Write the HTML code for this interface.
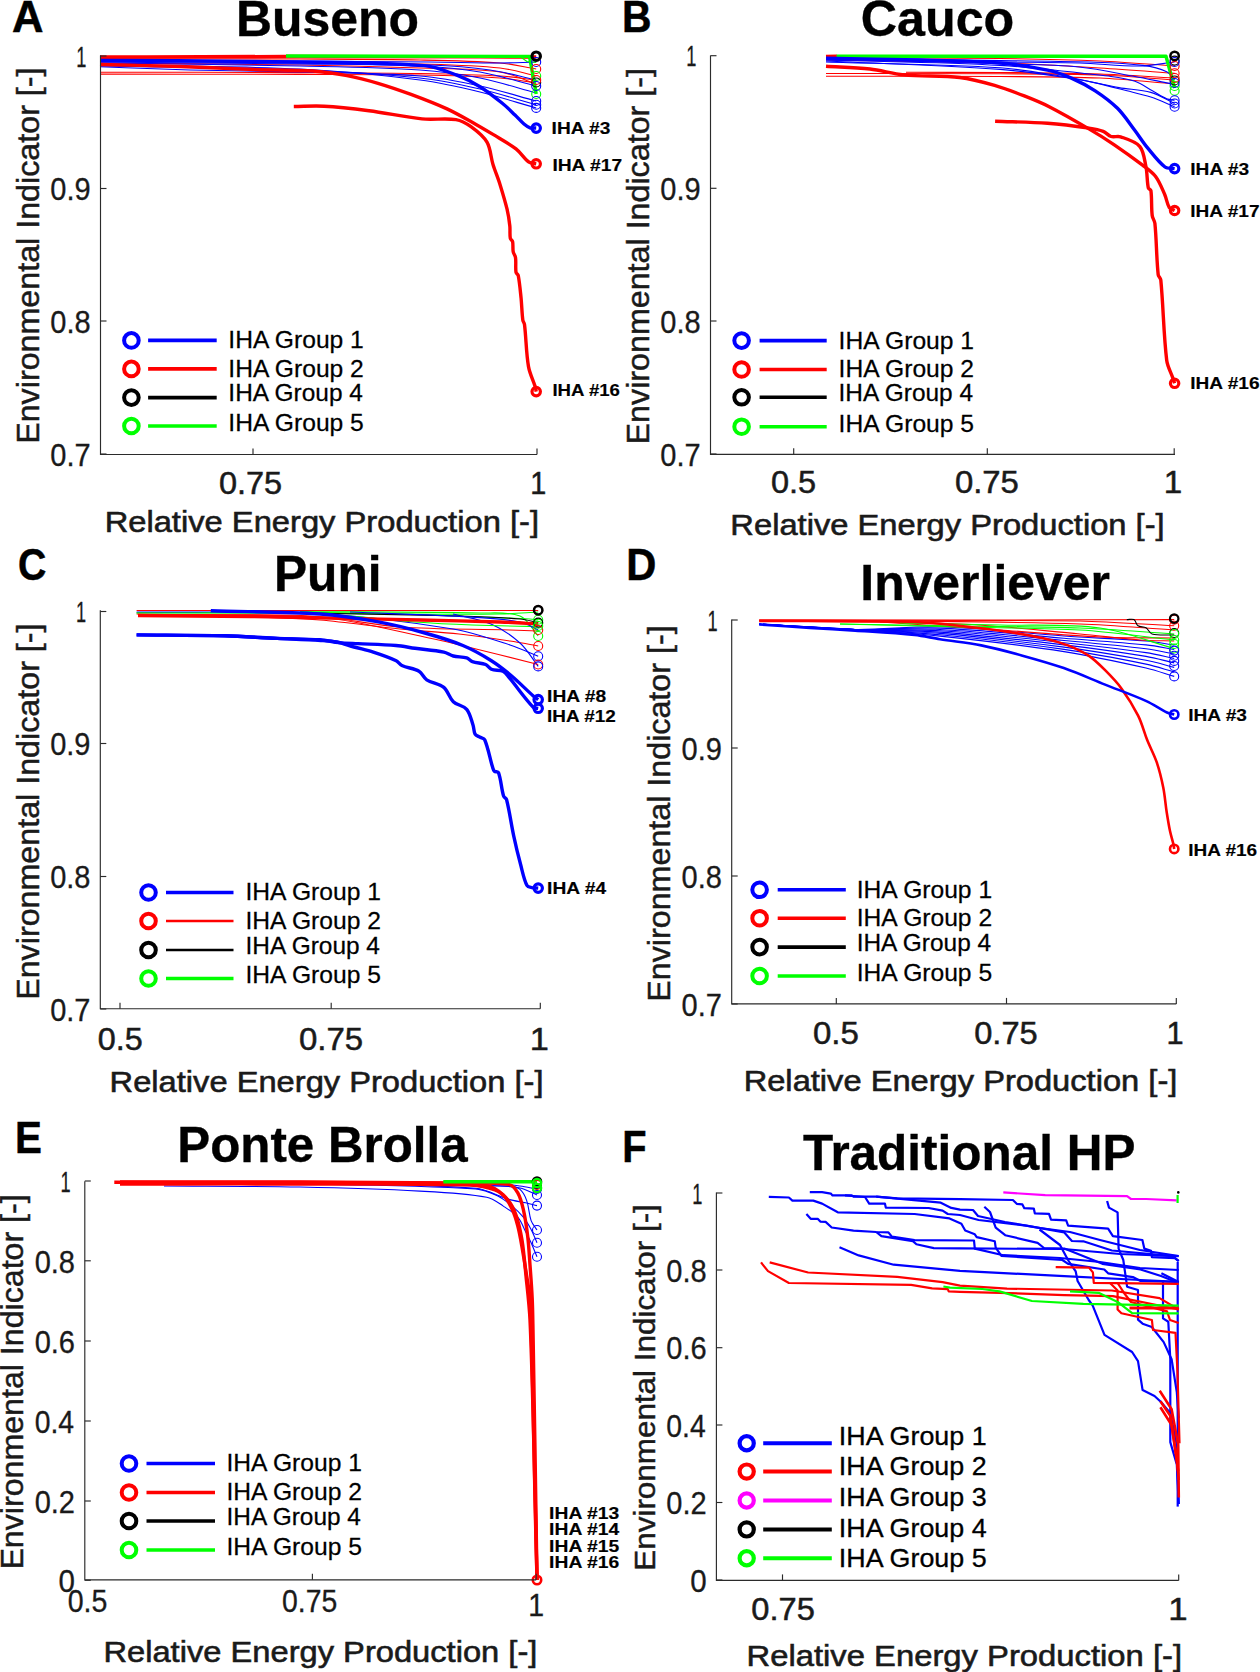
<!DOCTYPE html>
<html><head><meta charset="utf-8"><style>
html,body{margin:0;padding:0;background:#fff;}
svg{display:block;}
text{font-family:"Liberation Sans",sans-serif;}
</style></head><body>
<svg width="1260" height="1672" viewBox="0 0 1260 1672">
<rect width="1260" height="1672" fill="#fff"/>
<text transform="translate(12.00,31.70) scale(1.0000,1)" font-size="43.6" font-weight="bold" fill="#000" stroke="#000" stroke-width="0.5">A</text>
<text transform="translate(235.90,36.10) scale(0.9989,1)" font-size="50" font-weight="bold" fill="#000" stroke="#000" stroke-width="0.35">Buseno</text>
<path d="M100.0,72.2 C166.7,72.3 233.3,72.3 300.0,72.6 C340.0,72.8 380.0,72.8 420.0,73.5 C446.7,74.0 473.4,74.5 500.0,76.0 C512.1,76.7 524.1,78.7 536.2,80.0" fill="none" stroke="#ff0000" stroke-width="1.1" stroke-linejoin="round" stroke-linecap="butt"/>
<path d="M100.0,74.1 C166.7,74.2 233.3,74.2 300.0,74.4 C340.0,74.5 380.0,74.3 420.0,75.0 C446.7,75.5 473.4,76.2 500.0,78.0 C512.1,78.8 524.1,81.3 536.2,83.0" fill="none" stroke="#ff0000" stroke-width="1.1" stroke-linejoin="round" stroke-linecap="butt"/>
<path d="M100.0,58.5 C166.7,58.7 233.3,58.7 300.0,59.0 C340.0,59.2 380.0,59.2 420.0,60.0 C446.7,60.5 473.4,60.9 500.0,63.0 C512.2,63.9 524.1,67.0 536.2,69.0" fill="none" stroke="#ff0000" stroke-width="1.1" stroke-linejoin="round" stroke-linecap="butt"/>
<path d="M100.0,61.0 C166.7,61.3 233.3,61.4 300.0,62.0 C340.0,62.4 380.0,62.8 420.0,64.0 C446.7,64.8 473.5,65.3 500.0,68.0 C512.3,69.3 524.1,73.3 536.2,76.0" fill="none" stroke="#ff0000" stroke-width="1.1" stroke-linejoin="round" stroke-linecap="butt"/>
<path d="M100.0,63.0 C166.7,63.7 233.3,64.0 300.0,65.0 C340.0,65.6 380.0,66.6 420.0,68.0 C446.7,68.9 473.8,68.4 500.0,72.0 C512.5,73.7 524.1,80.0 536.2,84.0" fill="none" stroke="#ff0000" stroke-width="1.1" stroke-linejoin="round" stroke-linecap="butt"/>
<path d="M100.0,60.0 C166.7,60.3 233.3,60.6 300.0,61.0 C343.3,61.3 386.7,61.6 430.0,62.0 C453.3,62.2 476.7,63.0 500.0,63.0 C512.1,63.0 524.1,62.3 536.2,62.0" fill="none" stroke="#0000ff" stroke-width="1.1" stroke-linejoin="round" stroke-linecap="butt"/>
<path d="M100.0,62.0 C166.7,62.7 233.3,63.2 300.0,64.0 C340.0,64.5 380.1,64.2 420.0,66.0 C440.1,66.9 460.2,68.6 480.0,72.0 C499.0,75.3 517.5,81.3 536.2,86.0" fill="none" stroke="#0000ff" stroke-width="1.1" stroke-linejoin="round" stroke-linecap="butt"/>
<path d="M100.0,63.0 C166.7,64.0 233.3,64.5 300.0,66.0 C340.0,66.9 380.1,67.3 420.0,70.0 C440.1,71.3 460.2,74.1 480.0,78.0 C499.0,81.8 517.5,88.0 536.2,93.0" fill="none" stroke="#0000ff" stroke-width="1.1" stroke-linejoin="round" stroke-linecap="butt"/>
<path d="M100.0,66.8 C130.0,67.9 160.0,69.2 190.0,70.0 C226.7,71.0 263.3,71.0 300.0,72.0 C340.0,73.0 380.2,72.9 420.0,76.0 C440.2,77.6 460.2,81.7 480.0,86.0 C498.9,90.1 517.5,96.0 536.2,101.0" fill="none" stroke="#0000ff" stroke-width="1.1" stroke-linejoin="round" stroke-linecap="butt"/>
<path d="M100.0,66.0 C166.7,67.3 233.4,67.5 300.0,70.0 C340.1,71.5 380.2,73.8 420.0,78.0 C440.2,80.1 460.2,84.5 480.0,89.0 C498.9,93.4 517.5,99.5 536.2,104.7" fill="none" stroke="#0000ff" stroke-width="1.1" stroke-linejoin="round" stroke-linecap="butt"/>
<path d="M100.0,65.0 C166.7,66.3 233.4,65.9 300.0,69.0 C340.1,70.9 380.2,74.9 420.0,80.0 C440.2,82.6 460.2,87.2 480.0,92.0 C498.9,96.6 517.5,102.7 536.2,108.0" fill="none" stroke="#0000ff" stroke-width="1.1" stroke-linejoin="round" stroke-linecap="butt"/>
<path d="M100.0,61.0 C166.7,61.7 233.3,62.2 300.0,63.0 C343.3,63.5 386.7,63.4 430.0,65.0 C450.0,65.7 470.2,67.2 490.0,70.0 C505.6,72.2 520.8,76.7 536.2,80.0" fill="none" stroke="#0000ff" stroke-width="1.1" stroke-linejoin="round" stroke-linecap="butt"/>
<path d="M100.0,57.0 C162.0,56.8 224.0,56.5 286.0,56.5 C369.4,56.5 452.8,56.8 536.2,57.0" fill="none" stroke="#ff0000" stroke-width="3.4" stroke-linejoin="round" stroke-linecap="butt"/>
<path d="M286.0,56.0 L529.5,56.4 L536.2,94.0" fill="none" stroke="#00ff00" stroke-width="3.4" stroke-linejoin="round" stroke-linecap="butt"/>
<path d="M520.6,57.0 L527.0,61.5 L536.2,62.5" fill="none" stroke="#00ff00" stroke-width="1.1" stroke-linejoin="round" stroke-linecap="butt"/>
<path d="M100.0,60.5 C151.7,60.8 203.3,60.7 255.0,61.5 C311.3,62.4 368.1,61.7 424.0,65.6 C435.7,66.4 447.0,71.5 458.0,75.6 C465.7,78.5 473.1,82.4 480.0,86.7 C487.7,91.5 494.9,97.3 502.0,103.0 C506.6,106.7 510.7,110.9 515.0,115.0 C518.1,117.9 520.8,121.3 524.0,124.0 C525.8,125.5 527.8,127.1 530.0,127.8 C531.9,128.4 534.1,127.9 536.2,128.0" fill="none" stroke="#0000ff" stroke-width="3.4" stroke-linejoin="round" stroke-linecap="butt"/>
<path d="M100.0,64.5 C126.7,65.2 153.3,65.6 180.0,66.5 C205.0,67.3 230.0,68.7 255.0,69.5 C274.3,70.2 293.7,69.7 313.0,71.0 C324.4,71.8 335.8,73.5 347.0,75.6 C357.4,77.6 367.8,80.3 378.0,83.3 C389.1,86.6 400.1,90.4 411.0,94.4 C423.1,98.9 435.3,103.5 447.0,108.9 C456.9,113.5 466.4,119.1 476.0,124.4 C481.7,127.6 487.4,131.0 493.0,134.4 C500.7,139.1 508.9,143.4 516.0,148.9 C520.9,152.7 524.2,158.6 529.0,162.2 C530.9,163.6 533.8,163.3 536.2,163.8" fill="none" stroke="#ff0000" stroke-width="3.4" stroke-linejoin="round" stroke-linecap="butt"/>
<path d="M293.8,106.5 C303.9,106.4 314.0,105.6 324.0,106.2 C339.0,107.0 354.1,108.8 369.0,110.7 C386.7,113.0 404.3,117.1 422.0,118.9 C433.3,120.1 445.0,117.9 456.0,119.6 C461.4,120.5 466.6,123.5 471.0,126.7 C476.9,131.0 483.4,136.0 487.0,142.2 C490.7,148.6 490.7,157.1 493.0,164.4 C495.1,171.1 497.9,177.7 500.0,184.4 C502.5,192.5 505.0,200.6 507.0,208.9 C508.3,214.4 509.2,220.1 509.8,225.7 C510.3,229.8 509.6,234.2 510.3,238.2 C510.5,239.5 512.3,240.3 512.6,241.6 C513.3,244.8 512.6,248.5 513.2,251.8 C513.6,253.8 515.2,255.5 515.5,257.5 C516.2,262.3 515.3,267.6 516.0,272.3 C516.2,273.6 518.0,274.4 518.3,275.7 C519.7,283.1 520.3,290.8 521.1,298.4 C521.8,305.6 521.9,312.9 522.8,320.0 C523.0,321.6 524.3,322.9 524.5,324.5 C526.2,338.4 526.1,352.8 528.5,366.6 C529.7,373.6 533.2,380.2 535.3,387.0 C535.8,388.5 535.9,390.1 536.2,391.6" fill="none" stroke="#ff0000" stroke-width="3.4" stroke-linejoin="round" stroke-linecap="butt"/>
<circle cx="536.2" cy="62.0" r="4.5" fill="none" stroke="#0000ff" stroke-width="1.1"/>
<circle cx="536.2" cy="69.0" r="4.5" fill="none" stroke="#ff0000" stroke-width="1.1"/>
<circle cx="536.2" cy="76.0" r="4.5" fill="none" stroke="#00ff00" stroke-width="1.1"/>
<circle cx="536.2" cy="82.5" r="4.5" fill="none" stroke="#000000" stroke-width="1.1"/>
<circle cx="536.2" cy="94.0" r="4.5" fill="none" stroke="#00ff00" stroke-width="1.1"/>
<circle cx="536.2" cy="101.0" r="4.5" fill="none" stroke="#0000ff" stroke-width="1.1"/>
<circle cx="536.2" cy="104.7" r="4.5" fill="none" stroke="#0000ff" stroke-width="1.1"/>
<circle cx="536.2" cy="107.9" r="4.5" fill="none" stroke="#0000ff" stroke-width="1.1"/>
<circle cx="536.2" cy="86.0" r="4.5" fill="none" stroke="#0000ff" stroke-width="1.1"/>
<circle cx="536.2" cy="80.0" r="4.5" fill="none" stroke="#ff0000" stroke-width="1.1"/>
<circle cx="536.2" cy="56.2" r="4.2" fill="none" stroke="#000000" stroke-width="3.2"/>
<circle cx="536.2" cy="128.1" r="4.2" fill="none" stroke="#0000ff" stroke-width="3.2"/>
<circle cx="536.2" cy="163.8" r="4.2" fill="none" stroke="#ff0000" stroke-width="3.2"/>
<circle cx="536.2" cy="391.6" r="4.2" fill="none" stroke="#ff0000" stroke-width="3.2"/>
<text transform="translate(551.58,134.20) scale(1.2170,1)" font-size="15.7" font-weight="bold" fill="#000" stroke="#000" stroke-width="0.15">IHA #3</text>
<text transform="translate(552.38,170.90) scale(1.2250,1)" font-size="15.7" font-weight="bold" fill="#000" stroke="#000" stroke-width="0.15">IHA #17</text>
<text transform="translate(552.41,396.20) scale(1.1857,1)" font-size="15.7" font-weight="bold" fill="#000" stroke="#000" stroke-width="0.15">IHA #16</text>
<path d="M100.5,55.5 L100.5,454.5 L537,454.5" fill="none" stroke="#2b2b2b" stroke-width="1.15"/>
<path d="M100.5,56 L106.5,56" stroke="#2b2b2b" stroke-width="1.15"/>
<path d="M100.5,188.5 L106.5,188.5" stroke="#2b2b2b" stroke-width="1.15"/>
<path d="M100.5,321 L106.5,321" stroke="#2b2b2b" stroke-width="1.15"/>
<path d="M100.5,454 L106.5,454" stroke="#2b2b2b" stroke-width="1.15"/>
<path d="M253,454.5 L253,448.5" stroke="#2b2b2b" stroke-width="1.15"/>
<path d="M537,454.5 L537,448.5" stroke="#2b2b2b" stroke-width="1.15"/>
<text transform="translate(76.29,66.60) scale(0.6071,1)" font-size="30" font-weight="normal" fill="#1a1a1a" stroke="#1a1a1a" stroke-width="0.3">1</text>
<text transform="translate(50.36,200.20) scale(0.9366,1)" font-size="31" font-weight="normal" fill="#1a1a1a" stroke="#1a1a1a" stroke-width="0.3">0.9</text>
<text transform="translate(50.36,332.70) scale(0.9366,1)" font-size="31" font-weight="normal" fill="#1a1a1a" stroke="#1a1a1a" stroke-width="0.3">0.8</text>
<text transform="translate(50.36,465.70) scale(0.9366,1)" font-size="31" font-weight="normal" fill="#1a1a1a" stroke="#1a1a1a" stroke-width="0.3">0.7</text>
<text transform="translate(218.95,494.20) scale(1.0483,1)" font-size="31" font-weight="normal" fill="#1a1a1a" stroke="#1a1a1a" stroke-width="0.5">0.75</text>
<text transform="translate(530.14,494.20) scale(0.9286,1)" font-size="31" font-weight="normal" fill="#1a1a1a" stroke="#1a1a1a" stroke-width="0.5">1</text>
<text transform="translate(104.63,531.60) scale(1.0829,1)" font-size="30.2" font-weight="normal" fill="#1a1a1a" stroke="#1a1a1a" stroke-width="0.6">Relative Energy Production [-]</text>
<text transform="translate(38.70,443.82) rotate(-90) scale(1.0577,1)" font-size="30.5" font-weight="normal" fill="#1a1a1a" stroke="#1a1a1a" stroke-width="0.45">Environmental Indicator [-]</text>
<circle cx="131.4" cy="340.4" r="7.3" fill="none" stroke="#0000ff" stroke-width="4.0"/>
<path d="M148.1,340.4 L216.7,340.4" stroke="#0000ff" stroke-width="3.6"/>
<text transform="translate(228.35,348.30) scale(1.0264,1)" font-size="24" font-weight="normal" fill="#000" stroke="#000" stroke-width="0.25">IHA Group 1</text>
<circle cx="131.4" cy="368.9" r="7.3" fill="none" stroke="#ff0000" stroke-width="4.0"/>
<path d="M148.1,368.9 L216.7,368.9" stroke="#ff0000" stroke-width="3.6"/>
<text transform="translate(228.35,376.60) scale(1.0264,1)" font-size="24" font-weight="normal" fill="#000" stroke="#000" stroke-width="0.25">IHA Group 2</text>
<circle cx="131.4" cy="397.6" r="7.3" fill="none" stroke="#000000" stroke-width="4.0"/>
<path d="M148.1,397.6 L216.7,397.6" stroke="#000000" stroke-width="3.6"/>
<text transform="translate(228.36,401.20) scale(1.0185,1)" font-size="24" font-weight="normal" fill="#000" stroke="#000" stroke-width="0.25">IHA Group 4</text>
<circle cx="131.4" cy="426.0" r="7.3" fill="none" stroke="#00ff00" stroke-width="4.0"/>
<path d="M148.1,426 L216.7,426" stroke="#00ff00" stroke-width="3.6"/>
<text transform="translate(228.35,430.80) scale(1.0264,1)" font-size="24" font-weight="normal" fill="#000" stroke="#000" stroke-width="0.25">IHA Group 5</text>
<text transform="translate(622.09,31.90) scale(0.9370,1)" font-size="43.6" font-weight="bold" fill="#000" stroke="#000" stroke-width="0.5">B</text>
<text transform="translate(860.79,36.10) scale(1.0047,1)" font-size="50" font-weight="bold" fill="#000" stroke="#000" stroke-width="0.35">Cauco</text>
<path d="M826.0,73.5 C884.0,73.6 942.0,73.5 1000.0,73.8 C1033.3,74.0 1066.7,73.8 1100.0,75.0 C1124.9,75.9 1149.7,78.3 1174.6,80.0" fill="none" stroke="#ff0000" stroke-width="1.1" stroke-linejoin="round" stroke-linecap="butt"/>
<path d="M826.0,76.3 C884.0,76.4 942.0,76.1 1000.0,76.5 C1033.3,76.7 1066.7,76.6 1100.0,78.0 C1124.9,79.1 1149.7,82.0 1174.6,84.0" fill="none" stroke="#ff0000" stroke-width="1.1" stroke-linejoin="round" stroke-linecap="butt"/>
<path d="M826.0,57.5 C884.0,57.8 942.0,57.8 1000.0,58.5 C1033.3,58.9 1066.7,59.6 1100.0,61.0 C1124.9,62.1 1149.7,64.3 1174.6,66.0" fill="none" stroke="#ff0000" stroke-width="1.1" stroke-linejoin="round" stroke-linecap="butt"/>
<path d="M826.0,60.0 C884.0,61.0 942.0,61.3 1000.0,63.0 C1033.4,64.0 1066.7,66.0 1100.0,68.0 C1124.9,69.5 1149.7,71.5 1174.6,73.3" fill="none" stroke="#ff0000" stroke-width="1.1" stroke-linejoin="round" stroke-linecap="butt"/>
<path d="M906.0,72.3 C937.3,72.4 968.7,72.2 1000.0,72.5 C1033.3,72.8 1066.7,73.0 1100.0,74.0 C1124.9,74.8 1149.7,76.7 1174.6,78.0" fill="none" stroke="#ff0000" stroke-width="1.1" stroke-linejoin="round" stroke-linecap="butt"/>
<path d="M826.0,58.0 C884.0,58.9 942.0,59.7 1000.0,60.6 C1031.7,61.1 1063.4,61.1 1095.0,62.2 C1111.0,62.7 1127.2,63.3 1143.0,65.4 C1151.1,66.5 1159.5,68.4 1166.7,71.7 C1170.0,73.2 1172.0,77.0 1174.6,79.7" fill="none" stroke="#0000ff" stroke-width="1.1" stroke-linejoin="round" stroke-linecap="butt"/>
<path d="M826.0,59.0 C884.0,60.6 942.0,62.0 1000.0,63.8 C1026.3,64.6 1052.8,64.5 1079.0,67.0 C1097.8,68.8 1116.4,73.1 1135.0,76.5 C1145.6,78.4 1156.1,80.8 1166.7,82.9 C1169.3,83.4 1172.0,83.9 1174.6,84.4" fill="none" stroke="#0000ff" stroke-width="1.1" stroke-linejoin="round" stroke-linecap="butt"/>
<path d="M826.0,60.0 C884.0,61.8 942.1,62.0 1000.0,65.4 C1037.1,67.5 1074.1,72.2 1111.0,76.5 C1119.1,77.5 1127.4,78.7 1135.0,81.3 C1141.2,83.4 1146.6,87.6 1152.4,90.8 C1157.2,93.4 1161.7,96.6 1166.7,98.7 C1169.1,99.7 1172.0,99.8 1174.6,100.3" fill="none" stroke="#0000ff" stroke-width="1.1" stroke-linejoin="round" stroke-linecap="butt"/>
<path d="M826.0,61.0 C884.0,63.8 942.1,65.1 1000.0,69.4 C1026.6,71.4 1053.0,75.7 1079.4,79.7 C1092.7,81.7 1105.8,85.2 1119.0,87.6 C1129.6,89.5 1140.6,89.5 1150.8,92.4 C1159.1,94.8 1166.7,99.8 1174.6,103.5" fill="none" stroke="#0000ff" stroke-width="1.1" stroke-linejoin="round" stroke-linecap="butt"/>
<path d="M826.0,62.0 C884.0,63.9 942.1,64.3 1000.0,67.8 C1021.3,69.1 1042.4,73.2 1063.5,76.5 C1074.1,78.2 1084.7,80.5 1095.2,82.9 C1105.9,85.3 1116.4,88.1 1127.0,90.8 C1135.0,92.8 1143.0,94.5 1150.8,97.1 C1158.9,99.8 1166.7,103.5 1174.6,106.7" fill="none" stroke="#0000ff" stroke-width="1.1" stroke-linejoin="round" stroke-linecap="butt"/>
<path d="M826.0,59.5 C884.0,60.3 942.0,61.2 1000.0,62.0 C1026.7,62.4 1053.3,62.2 1080.0,63.0 C1100.0,63.6 1120.0,66.2 1140.0,66.0 C1151.6,65.9 1163.1,63.3 1174.6,62.0" fill="none" stroke="#0000ff" stroke-width="1.1" stroke-linejoin="round" stroke-linecap="butt"/>
<path d="M826.0,56.5 L837.0,56.2" fill="none" stroke="#ff0000" stroke-width="3.4" stroke-linejoin="round" stroke-linecap="butt"/>
<path d="M836.6,56.2 L1166.0,56.2 L1174.6,88.0" fill="none" stroke="#00ff00" stroke-width="3.4" stroke-linejoin="round" stroke-linecap="butt"/>
<path d="M826.0,58.3 C857.3,58.9 888.7,59.2 920.0,60.0 C946.7,60.7 973.4,60.9 1000.0,63.0 C1016.0,64.3 1032.0,66.9 1047.6,70.2 C1055.8,71.9 1063.8,74.8 1071.4,78.1 C1079.6,81.7 1087.7,85.9 1095.2,90.8 C1103.1,96.0 1110.9,101.7 1117.5,108.3 C1124.1,114.9 1129.2,123.0 1134.9,130.5 C1139.2,136.2 1143.0,142.4 1147.6,147.9 C1153.1,154.5 1158.5,162.0 1165.0,167.0 C1167.5,168.9 1171.4,168.1 1174.6,168.6" fill="none" stroke="#0000ff" stroke-width="3.4" stroke-linejoin="round" stroke-linecap="butt"/>
<path d="M826.0,66.2 C840.7,67.1 855.4,67.4 870.0,69.0 C881.3,70.3 892.4,73.8 903.8,74.9 C922.3,76.7 941.2,75.4 959.7,77.5 C971.5,78.9 983.1,82.1 994.6,85.4 C1004.7,88.3 1014.5,92.1 1024.3,95.9 C1032.7,99.2 1041.2,102.6 1049.2,106.7 C1062.7,113.6 1075.8,121.2 1088.9,128.9 C1097.5,133.9 1106.0,139.2 1114.3,144.8 C1124.0,151.4 1133.6,158.3 1142.9,165.4 C1147.4,168.8 1152.3,172.1 1155.6,176.5 C1159.6,181.8 1162.0,188.4 1164.7,194.5 C1166.6,198.7 1167.0,203.9 1169.3,207.6 C1170.3,209.2 1172.8,209.5 1174.6,210.5" fill="none" stroke="#ff0000" stroke-width="3.4" stroke-linejoin="round" stroke-linecap="butt"/>
<path d="M995.1,121.2 C1012.6,121.9 1030.1,122.0 1047.6,123.3 C1061.4,124.3 1075.2,126.1 1088.9,128.1 C1093.7,128.8 1098.7,129.6 1103.2,131.3 C1106.1,132.4 1108.2,135.6 1111.1,136.5 C1114.0,137.4 1117.7,135.8 1120.6,136.8 C1127.2,139.1 1135.5,141.3 1139.7,146.3 C1144.0,151.4 1144.5,160.0 1146.0,167.0 C1147.4,173.8 1146.9,181.2 1148.3,187.9 C1148.5,189.1 1150.7,189.3 1150.9,190.5 C1152.0,198.5 1151.2,207.3 1152.2,215.5 C1152.5,218.2 1154.6,220.6 1154.9,223.4 C1156.6,240.4 1156.4,257.8 1158.2,274.7 C1158.4,276.6 1160.6,278.1 1160.8,280.0 C1163.4,306.6 1163.5,333.8 1166.7,360.3 C1167.4,366.3 1170.6,371.7 1172.6,377.4 C1173.3,379.4 1173.9,381.3 1174.6,383.3" fill="none" stroke="#ff0000" stroke-width="3.4" stroke-linejoin="round" stroke-linecap="butt"/>
<circle cx="1174.6" cy="60.6" r="4.5" fill="none" stroke="#000000" stroke-width="1.1"/>
<circle cx="1174.6" cy="73.3" r="4.5" fill="none" stroke="#ff0000" stroke-width="1.1"/>
<circle cx="1174.6" cy="66.0" r="4.5" fill="none" stroke="#ff0000" stroke-width="1.1"/>
<circle cx="1174.6" cy="80.5" r="4.5" fill="none" stroke="#000000" stroke-width="1.1"/>
<circle cx="1174.6" cy="86.0" r="4.5" fill="none" stroke="#00ff00" stroke-width="1.1"/>
<circle cx="1174.6" cy="90.8" r="4.5" fill="none" stroke="#00ff00" stroke-width="1.1"/>
<circle cx="1174.6" cy="100.3" r="4.5" fill="none" stroke="#0000ff" stroke-width="1.1"/>
<circle cx="1174.6" cy="103.5" r="4.5" fill="none" stroke="#0000ff" stroke-width="1.1"/>
<circle cx="1174.6" cy="106.7" r="4.5" fill="none" stroke="#0000ff" stroke-width="1.1"/>
<circle cx="1174.6" cy="62.0" r="4.5" fill="none" stroke="#0000ff" stroke-width="1.1"/>
<circle cx="1174.6" cy="83.0" r="4.5" fill="none" stroke="#0000ff" stroke-width="1.1"/>
<circle cx="1174.6" cy="78.0" r="4.5" fill="none" stroke="#ff0000" stroke-width="1.1"/>
<circle cx="1174.6" cy="55.9" r="4.2" fill="none" stroke="#000000" stroke-width="2.5"/>
<circle cx="1174.6" cy="168.6" r="4.2" fill="none" stroke="#0000ff" stroke-width="3.2"/>
<circle cx="1174.6" cy="210.5" r="4.2" fill="none" stroke="#ff0000" stroke-width="3.2"/>
<circle cx="1174.6" cy="383.3" r="4.2" fill="none" stroke="#ff0000" stroke-width="3.2"/>
<text transform="translate(1190.28,174.70) scale(1.2191,1)" font-size="15.7" font-weight="bold" fill="#000" stroke="#000" stroke-width="0.15">IHA #3</text>
<text transform="translate(1190.29,216.60) scale(1.2143,1)" font-size="15.7" font-weight="bold" fill="#000" stroke="#000" stroke-width="0.15">IHA #17</text>
<text transform="translate(1190.29,389.40) scale(1.2143,1)" font-size="15.7" font-weight="bold" fill="#000" stroke="#000" stroke-width="0.15">IHA #16</text>
<path d="M710.5,55.5 L710.5,454.3 L1175,454.3" fill="none" stroke="#2b2b2b" stroke-width="1.15"/>
<path d="M710.5,55.7 L716.5,55.7" stroke="#2b2b2b" stroke-width="1.15"/>
<path d="M710.5,188.3 L716.5,188.3" stroke="#2b2b2b" stroke-width="1.15"/>
<path d="M710.5,321 L716.5,321" stroke="#2b2b2b" stroke-width="1.15"/>
<path d="M710.5,454 L716.5,454" stroke="#2b2b2b" stroke-width="1.15"/>
<path d="M793.7,454.3 L793.7,448.3" stroke="#2b2b2b" stroke-width="1.15"/>
<path d="M987.3,454.3 L987.3,448.3" stroke="#2b2b2b" stroke-width="1.15"/>
<path d="M1174.2,454.3 L1174.2,448.3" stroke="#2b2b2b" stroke-width="1.15"/>
<text transform="translate(686.29,66.30) scale(0.6071,1)" font-size="30" font-weight="normal" fill="#1a1a1a" stroke="#1a1a1a" stroke-width="0.3">1</text>
<text transform="translate(660.36,200.00) scale(0.9366,1)" font-size="31" font-weight="normal" fill="#1a1a1a" stroke="#1a1a1a" stroke-width="0.3">0.9</text>
<text transform="translate(660.36,332.70) scale(0.9366,1)" font-size="31" font-weight="normal" fill="#1a1a1a" stroke="#1a1a1a" stroke-width="0.3">0.8</text>
<text transform="translate(660.36,465.70) scale(0.9366,1)" font-size="31" font-weight="normal" fill="#1a1a1a" stroke="#1a1a1a" stroke-width="0.3">0.7</text>
<text transform="translate(770.95,493.40) scale(1.0488,1)" font-size="31" font-weight="normal" fill="#1a1a1a" stroke="#1a1a1a" stroke-width="0.5">0.5</text>
<text transform="translate(954.94,493.40) scale(1.0603,1)" font-size="31" font-weight="normal" fill="#1a1a1a" stroke="#1a1a1a" stroke-width="0.5">0.75</text>
<text transform="translate(1163.86,493.40) scale(1.0714,1)" font-size="31" font-weight="normal" fill="#1a1a1a" stroke="#1a1a1a" stroke-width="0.5">1</text>
<text transform="translate(730.33,535.20) scale(1.0829,1)" font-size="30.2" font-weight="normal" fill="#1a1a1a" stroke="#1a1a1a" stroke-width="0.6">Relative Energy Production [-]</text>
<text transform="translate(648.70,444.42) rotate(-90) scale(1.0577,1)" font-size="30.5" font-weight="normal" fill="#1a1a1a" stroke="#1a1a1a" stroke-width="0.45">Environmental Indicator [-]</text>
<circle cx="741.6" cy="340.6" r="7.3" fill="none" stroke="#0000ff" stroke-width="4.0"/>
<path d="M759.6,340.6 L826.7,340.6" stroke="#0000ff" stroke-width="3.6"/>
<text transform="translate(838.55,348.50) scale(1.0264,1)" font-size="24" font-weight="normal" fill="#000" stroke="#000" stroke-width="0.25">IHA Group 1</text>
<circle cx="741.6" cy="369.5" r="7.3" fill="none" stroke="#ff0000" stroke-width="4.0"/>
<path d="M759.6,369.5 L826.7,369.5" stroke="#ff0000" stroke-width="3.6"/>
<text transform="translate(838.55,377.20) scale(1.0264,1)" font-size="24" font-weight="normal" fill="#000" stroke="#000" stroke-width="0.25">IHA Group 2</text>
<circle cx="741.6" cy="397.3" r="7.3" fill="none" stroke="#000000" stroke-width="4.0"/>
<path d="M759.6,397.3 L826.7,397.3" stroke="#000000" stroke-width="3.6"/>
<text transform="translate(838.56,400.90) scale(1.0185,1)" font-size="24" font-weight="normal" fill="#000" stroke="#000" stroke-width="0.25">IHA Group 4</text>
<circle cx="741.6" cy="426.7" r="7.3" fill="none" stroke="#00ff00" stroke-width="4.0"/>
<path d="M759.6,426.7 L826.7,426.7" stroke="#00ff00" stroke-width="3.6"/>
<text transform="translate(838.55,431.50) scale(1.0264,1)" font-size="24" font-weight="normal" fill="#000" stroke="#000" stroke-width="0.25">IHA Group 5</text>
<text transform="translate(18.10,580.00) scale(0.9000,1)" font-size="43.6" font-weight="bold" fill="#000" stroke="#000" stroke-width="0.5">C</text>
<text transform="translate(273.92,590.80) scale(0.9941,1)" font-size="50" font-weight="bold" fill="#000" stroke="#000" stroke-width="0.35">Puni</text>
<path d="M136.6,610.5 C224.4,610.5 312.2,610.5 400.0,610.5 C446.1,610.5 492.1,610.5 538.2,610.5" fill="none" stroke="#ff0000" stroke-width="1.1" stroke-linejoin="round" stroke-linecap="butt"/>
<path d="M136.6,612.7 C191.1,612.8 245.5,612.7 300.0,613.0 C333.3,613.2 366.7,613.8 400.0,614.0 C433.3,614.2 466.7,614.5 500.0,614.0 C512.7,613.8 525.5,612.7 538.2,612.0" fill="none" stroke="#00ff00" stroke-width="1.1" stroke-linejoin="round" stroke-linecap="butt"/>
<path d="M260.0,617.0 C280.0,618.0 300.1,618.3 320.0,620.0 C346.7,622.3 373.3,626.3 400.0,629.0 C419.6,631.0 439.4,631.9 459.0,634.0 C476.1,635.9 493.0,638.4 510.0,641.0 C519.4,642.4 528.8,644.3 538.2,646.0" fill="none" stroke="#ff0000" stroke-width="1.1" stroke-linejoin="round" stroke-linecap="butt"/>
<path d="M136.6,614.0 C197.7,615.0 259.0,614.0 320.0,617.0 C346.8,618.3 373.2,625.2 400.0,627.0 C436.6,629.5 473.3,628.9 510.0,630.0 C519.4,630.3 528.8,630.7 538.2,631.0" fill="none" stroke="#ff0000" stroke-width="1.1" stroke-linejoin="round" stroke-linecap="butt"/>
<path d="M136.6,612.0 C197.7,612.7 259.0,610.7 320.0,614.0 C364.5,616.4 409.1,621.8 453.0,629.0 C472.4,632.2 491.2,639.0 510.0,645.0 C519.6,648.1 528.8,652.5 538.2,656.3" fill="none" stroke="#0000ff" stroke-width="1.1" stroke-linejoin="round" stroke-linecap="butt"/>
<path d="M453.0,614.0 C465.7,617.3 479.1,618.9 491.0,624.0 C501.5,628.5 511.5,635.4 520.0,643.0 C527.3,649.5 532.1,658.6 538.2,666.4" fill="none" stroke="#0000ff" stroke-width="1.1" stroke-linejoin="round" stroke-linecap="butt"/>
<path d="M200.0,615.0 C240.0,615.7 280.4,612.9 320.0,617.0 C358.4,620.9 396.1,631.3 434.0,639.0 C446.8,641.6 459.4,644.9 472.0,648.0 C494.1,653.4 516.1,659.0 538.2,664.5" fill="none" stroke="#ff0000" stroke-width="1.1" stroke-linejoin="round" stroke-linecap="butt"/>
<path d="M136.6,613.0 C197.7,613.3 258.9,612.0 320.0,614.0 C351.7,615.0 383.3,619.7 415.0,622.0 C434.0,623.4 453.0,624.3 472.0,625.0 C491.0,625.7 510.0,626.1 529.0,626.4 C532.1,626.4 535.1,626.1 538.2,626.0" fill="none" stroke="#00ff00" stroke-width="1.1" stroke-linejoin="round" stroke-linecap="butt"/>
<path d="M300.0,612.0 C333.3,612.7 366.7,613.1 400.0,614.0 C426.7,614.7 453.3,616.0 480.0,617.0 C496.7,617.6 513.3,618.1 530.0,619.0 C532.7,619.1 535.5,619.7 538.2,620.0" fill="none" stroke="#00ff00" stroke-width="1.1" stroke-linejoin="round" stroke-linecap="butt"/>
<path d="M300.0,611.5 C360.0,612.0 420.0,611.8 480.0,613.0 C493.4,613.3 508.4,611.4 520.0,616.0 C527.8,619.1 532.1,629.3 538.2,636.0" fill="none" stroke="#00ff00" stroke-width="1.1" stroke-linejoin="round" stroke-linecap="butt"/>
<path d="M300.0,613.0 C353.3,614.0 406.7,614.5 460.0,616.0 C480.0,616.5 500.1,617.3 520.0,619.0 C526.2,619.5 532.1,621.4 538.2,622.6" fill="none" stroke="#000000" stroke-width="1.1" stroke-linejoin="round" stroke-linecap="butt"/>
<path d="M350.0,612.0 C390.0,613.7 430.0,614.6 470.0,617.0 C486.7,618.0 503.7,618.9 520.0,622.0 C526.4,623.2 532.1,627.3 538.2,630.0" fill="none" stroke="#0000ff" stroke-width="1.1" stroke-linejoin="round" stroke-linecap="butt"/>
<path d="M138.0,615.5 C175.3,615.8 212.7,616.0 250.0,616.5 C280.0,616.9 310.0,617.7 340.0,618.3 C366.7,618.8 393.3,619.4 420.0,620.0 C446.7,620.6 473.3,621.1 500.0,622.0 C512.7,622.4 525.5,623.3 538.2,624.0" fill="none" stroke="#ff0000" stroke-width="3.4" stroke-linejoin="round" stroke-linecap="butt"/>
<path d="M210.8,610.8 C247.2,611.9 283.7,611.6 320.0,614.0 C339.1,615.3 358.2,618.3 377.0,621.7 C393.1,624.6 409.0,628.6 424.8,633.0 C437.7,636.6 450.6,640.4 462.9,645.5 C472.8,649.6 482.3,655.0 491.4,660.7 C498.1,664.9 504.4,669.9 510.5,675.0 C518.4,681.6 525.6,689.1 533.3,696.0 C534.8,697.3 536.6,698.4 538.2,699.6" fill="none" stroke="#0000ff" stroke-width="3.4" stroke-linejoin="round" stroke-linecap="butt"/>
<path d="M136.6,634.9 C166.0,635.2 195.4,635.1 224.8,635.8 C242.3,636.2 259.7,637.7 277.2,638.4 C291.5,639.0 305.8,638.8 320.0,639.8 C326.4,640.2 332.6,642.0 339.0,642.6 C345.3,643.2 351.7,643.3 358.0,643.6 C370.7,644.2 383.4,644.5 396.0,645.5 C402.4,646.0 408.7,647.4 415.0,648.3 C424.6,649.6 434.4,650.2 443.8,652.1 C447.1,652.8 450.0,655.2 453.3,656.0 C457.6,657.1 462.5,656.6 466.7,657.9 C468.8,658.5 470.3,661.0 472.4,661.7 C476.6,663.2 481.6,662.9 485.7,664.5 C487.9,665.4 489.2,668.4 491.4,669.3 C494.9,670.7 499.5,669.7 502.9,671.2 C505.2,672.2 506.9,674.8 508.6,676.9 C517.0,686.9 524.5,698.1 533.3,707.4 C534.4,708.6 536.6,708.0 538.2,708.3" fill="none" stroke="#0000ff" stroke-width="3.4" stroke-linejoin="round" stroke-linecap="butt"/>
<path d="M136.6,634.9 C166.0,635.2 195.4,635.1 224.8,635.8 C242.3,636.2 259.7,637.5 277.2,638.4 C291.7,639.1 306.3,639.6 320.8,640.5 C326.2,640.8 331.7,641.0 337.0,642.0 C342.8,643.1 348.3,645.4 354.0,647.0 C360.4,648.8 367.0,650.0 373.3,652.1 C381.0,654.6 388.9,657.3 396.2,660.7 C398.4,661.7 399.7,664.5 401.9,665.5 C407.3,668.0 414.0,668.3 419.0,671.2 C422.2,673.1 423.5,677.7 426.7,679.8 C431.8,683.1 439.2,683.6 443.8,687.4 C448.0,690.9 449.3,697.9 453.3,701.7 C456.9,705.2 463.6,705.6 466.7,709.3 C470.1,713.4 471.2,719.7 473.0,725.0 C474.0,727.9 473.7,731.6 475.1,734.1 C475.9,735.6 478.1,736.2 479.7,737.1 C481.3,738.0 484.0,738.1 484.7,739.7 C488.2,747.9 489.7,757.7 492.4,766.6 C492.9,768.2 493.3,770.1 494.4,771.2 C495.3,772.1 498.0,771.4 498.5,772.7 C501.1,779.7 501.3,788.6 503.6,796.1 C504.0,797.6 506.2,798.2 506.6,799.7 C509.6,811.4 511.1,823.8 513.7,835.8 C515.8,845.7 518.2,855.5 520.8,865.3 C522.6,872.1 524.0,879.7 527.0,885.6 C527.8,887.1 530.3,887.2 532.0,887.6 C534.0,888.0 536.1,887.9 538.2,888.1" fill="none" stroke="#0000ff" stroke-width="3.4" stroke-linejoin="round" stroke-linecap="butt"/>
<circle cx="538.2" cy="610.2" r="4.5" fill="none" stroke="#ff0000" stroke-width="1.1"/>
<circle cx="538.2" cy="619.8" r="4.5" fill="none" stroke="#00ff00" stroke-width="1.1"/>
<circle cx="538.2" cy="623.6" r="4.5" fill="none" stroke="#00ff00" stroke-width="1.1"/>
<circle cx="538.2" cy="636.0" r="4.5" fill="none" stroke="#00ff00" stroke-width="1.1"/>
<circle cx="538.2" cy="646.0" r="4.5" fill="none" stroke="#ff0000" stroke-width="1.1"/>
<circle cx="538.2" cy="656.3" r="4.5" fill="none" stroke="#0000ff" stroke-width="1.1"/>
<circle cx="538.2" cy="664.5" r="4.5" fill="none" stroke="#ff0000" stroke-width="1.1"/>
<circle cx="538.2" cy="666.4" r="4.5" fill="none" stroke="#0000ff" stroke-width="1.1"/>
<circle cx="538.2" cy="622.6" r="4.5" fill="none" stroke="#000000" stroke-width="1.1"/>
<circle cx="538.2" cy="630.0" r="4.5" fill="none" stroke="#ff0000" stroke-width="1.1"/>
<circle cx="538.2" cy="626.0" r="4.5" fill="none" stroke="#00ff00" stroke-width="1.1"/>
<circle cx="538.2" cy="610.2" r="4.2" fill="none" stroke="#000000" stroke-width="2.5"/>
<circle cx="538.2" cy="699.6" r="4.2" fill="none" stroke="#0000ff" stroke-width="3.2"/>
<circle cx="538.2" cy="708.3" r="4.2" fill="none" stroke="#0000ff" stroke-width="3.2"/>
<circle cx="538.2" cy="888.1" r="4.2" fill="none" stroke="#0000ff" stroke-width="3.2"/>
<text transform="translate(547.08,702.00) scale(1.2234,1)" font-size="15.7" font-weight="bold" fill="#000" stroke="#000" stroke-width="0.15">IHA #8</text>
<text transform="translate(547.09,721.90) scale(1.2054,1)" font-size="15.7" font-weight="bold" fill="#000" stroke="#000" stroke-width="0.15">IHA #12</text>
<text transform="translate(547.08,894.00) scale(1.2234,1)" font-size="15.7" font-weight="bold" fill="#000" stroke="#000" stroke-width="0.15">IHA #4</text>
<path d="M100.3,610.2 L100.3,1008.7 L540.3,1008.7" fill="none" stroke="#2b2b2b" stroke-width="1.15"/>
<path d="M100.3,611.5 L106.3,611.5" stroke="#2b2b2b" stroke-width="1.15"/>
<path d="M100.3,743.5 L106.3,743.5" stroke="#2b2b2b" stroke-width="1.15"/>
<path d="M100.3,876.5 L106.3,876.5" stroke="#2b2b2b" stroke-width="1.15"/>
<path d="M100.3,1009 L106.3,1009" stroke="#2b2b2b" stroke-width="1.15"/>
<path d="M120,1008.7 L120,1002.7" stroke="#2b2b2b" stroke-width="1.15"/>
<path d="M331.2,1008.7 L331.2,1002.7" stroke="#2b2b2b" stroke-width="1.15"/>
<path d="M540.3,1008.7 L540.3,1002.7" stroke="#2b2b2b" stroke-width="1.15"/>
<text transform="translate(76.09,622.10) scale(0.6071,1)" font-size="30" font-weight="normal" fill="#1a1a1a" stroke="#1a1a1a" stroke-width="0.3">1</text>
<text transform="translate(50.16,755.20) scale(0.9366,1)" font-size="31" font-weight="normal" fill="#1a1a1a" stroke="#1a1a1a" stroke-width="0.3">0.9</text>
<text transform="translate(50.16,888.20) scale(0.9366,1)" font-size="31" font-weight="normal" fill="#1a1a1a" stroke="#1a1a1a" stroke-width="0.3">0.8</text>
<text transform="translate(50.16,1020.70) scale(0.9366,1)" font-size="31" font-weight="normal" fill="#1a1a1a" stroke="#1a1a1a" stroke-width="0.3">0.7</text>
<text transform="translate(97.66,1050.10) scale(1.0439,1)" font-size="31" font-weight="normal" fill="#1a1a1a" stroke="#1a1a1a" stroke-width="0.5">0.5</text>
<text transform="translate(298.94,1050.10) scale(1.0638,1)" font-size="31" font-weight="normal" fill="#1a1a1a" stroke="#1a1a1a" stroke-width="0.5">0.75</text>
<text transform="translate(529.79,1050.10) scale(1.1071,1)" font-size="31" font-weight="normal" fill="#1a1a1a" stroke="#1a1a1a" stroke-width="0.5">1</text>
<text transform="translate(109.54,1092.40) scale(1.0819,1)" font-size="30.2" font-weight="normal" fill="#1a1a1a" stroke="#1a1a1a" stroke-width="0.6">Relative Energy Production [-]</text>
<text transform="translate(38.70,999.82) rotate(-90) scale(1.0577,1)" font-size="30.5" font-weight="normal" fill="#1a1a1a" stroke="#1a1a1a" stroke-width="0.45">Environmental Indicator [-]</text>
<circle cx="148.5" cy="892.5" r="7.3" fill="none" stroke="#0000ff" stroke-width="4.0"/>
<path d="M166,892.5 L233.5,892.5" stroke="#0000ff" stroke-width="3.6"/>
<text transform="translate(245.45,900.40) scale(1.0264,1)" font-size="24" font-weight="normal" fill="#000" stroke="#000" stroke-width="0.25">IHA Group 1</text>
<circle cx="148.5" cy="921.0" r="7.3" fill="none" stroke="#ff0000" stroke-width="4.0"/>
<path d="M166,921 L233.5,921" stroke="#ff0000" stroke-width="2.6"/>
<text transform="translate(245.45,928.70) scale(1.0264,1)" font-size="24" font-weight="normal" fill="#000" stroke="#000" stroke-width="0.25">IHA Group 2</text>
<circle cx="148.5" cy="950.0" r="7.3" fill="none" stroke="#000000" stroke-width="4.0"/>
<path d="M166,950 L233.5,950" stroke="#000000" stroke-width="2.6"/>
<text transform="translate(245.46,953.60) scale(1.0185,1)" font-size="24" font-weight="normal" fill="#000" stroke="#000" stroke-width="0.25">IHA Group 4</text>
<circle cx="148.5" cy="978.5" r="7.3" fill="none" stroke="#00ff00" stroke-width="4.0"/>
<path d="M166,978.5 L233.5,978.5" stroke="#00ff00" stroke-width="3.4"/>
<text transform="translate(245.45,983.30) scale(1.0264,1)" font-size="24" font-weight="normal" fill="#000" stroke="#000" stroke-width="0.25">IHA Group 5</text>
<text transform="translate(626.23,580.00) scale(0.9556,1)" font-size="43.6" font-weight="bold" fill="#000" stroke="#000" stroke-width="0.5">D</text>
<text transform="translate(860.31,600.40) scale(0.9976,1)" font-size="50" font-weight="bold" fill="#000" stroke="#000" stroke-width="0.35">Inverliever</text>
<path d="M759.2,624.2 C791.1,626.0 823.1,629.0 855.0,629.5 C883.3,629.9 911.7,625.9 940.0,626.8 C981.4,628.1 1022.7,633.1 1064.0,636.0 C1091.3,637.9 1118.7,638.8 1146.0,641.0 C1155.5,641.8 1164.8,643.7 1174.2,645.0" fill="none" stroke="#0000ff" stroke-width="1.1" stroke-linejoin="round" stroke-linecap="butt"/>
<path d="M759.2,624.2 C791.1,626.0 823.0,628.8 855.0,629.5 C883.3,630.1 911.7,626.9 940.0,628.1 C981.4,629.9 1022.7,634.9 1064.0,638.2 C1091.3,640.4 1118.7,642.1 1146.0,644.9 C1155.5,645.8 1164.8,647.9 1174.2,649.5" fill="none" stroke="#0000ff" stroke-width="1.1" stroke-linejoin="round" stroke-linecap="butt"/>
<path d="M759.2,624.2 C791.1,626.0 823.0,628.6 855.0,629.5 C883.3,630.3 911.7,628.0 940.0,629.5 C981.4,631.6 1022.7,636.6 1064.0,640.5 C1091.4,643.0 1118.8,645.4 1146.0,648.7 C1155.5,649.9 1164.8,652.2 1174.2,654.0" fill="none" stroke="#0000ff" stroke-width="1.1" stroke-linejoin="round" stroke-linecap="butt"/>
<path d="M759.2,624.2 C791.1,626.0 823.0,628.3 855.0,629.5 C883.3,630.5 911.7,629.0 940.0,630.8 C981.4,633.4 1022.7,638.3 1064.0,642.7 C1091.4,645.6 1118.8,648.7 1146.0,652.6 C1155.5,653.9 1164.8,656.5 1174.2,658.5" fill="none" stroke="#0000ff" stroke-width="1.1" stroke-linejoin="round" stroke-linecap="butt"/>
<path d="M759.2,624.2 C791.1,626.0 823.1,628.1 855.0,629.5 C883.3,630.7 911.7,630.0 940.0,632.1 C981.4,635.2 1022.7,640.0 1064.0,644.9 C1091.4,648.1 1118.8,652.0 1146.0,656.4 C1155.5,658.0 1164.8,660.8 1174.2,662.9" fill="none" stroke="#0000ff" stroke-width="1.1" stroke-linejoin="round" stroke-linecap="butt"/>
<path d="M759.2,624.2 C791.1,626.0 823.1,627.9 855.0,629.5 C883.3,630.9 911.8,631.1 940.0,633.4 C981.4,636.9 1022.8,641.8 1064.0,647.1 C1091.4,650.7 1118.8,655.3 1146.0,660.3 C1155.5,662.0 1164.8,665.0 1174.2,667.4" fill="none" stroke="#0000ff" stroke-width="1.1" stroke-linejoin="round" stroke-linecap="butt"/>
<path d="M759.2,624.2 C791.1,626.0 823.1,627.6 855.0,629.5 C883.3,631.2 911.8,632.1 940.0,634.8 C981.4,638.7 1022.8,643.5 1064.0,649.4 C1091.5,653.3 1118.8,658.6 1146.0,664.1 C1155.5,666.1 1164.8,669.3 1174.2,671.9" fill="none" stroke="#0000ff" stroke-width="1.1" stroke-linejoin="round" stroke-linecap="butt"/>
<path d="M759.2,624.2 C791.1,626.0 823.1,627.4 855.0,629.5 C883.4,631.4 911.7,633.1 940.0,636.1 C981.4,640.5 1022.9,645.2 1064.0,651.6 C1091.5,655.9 1118.8,661.9 1146.0,668.0 C1155.6,670.2 1164.8,673.6 1174.2,676.4" fill="none" stroke="#0000ff" stroke-width="1.1" stroke-linejoin="round" stroke-linecap="butt"/>
<path d="M759.2,621.0 C826.1,622.0 893.2,621.3 960.0,624.0 C1000.1,625.6 1040.0,630.4 1080.0,634.0 C1100.0,635.8 1120.0,638.5 1140.0,640.0 C1151.4,640.8 1162.8,640.7 1174.2,641.0" fill="none" stroke="#ff0000" stroke-width="1.1" stroke-linejoin="round" stroke-linecap="butt"/>
<path d="M880.0,622.0 C920.0,624.7 960.0,627.3 1000.0,630.0 C1033.3,632.3 1066.6,635.5 1100.0,637.0 C1124.7,638.1 1149.5,637.7 1174.2,638.0" fill="none" stroke="#ff0000" stroke-width="1.1" stroke-linejoin="round" stroke-linecap="butt"/>
<path d="M759.2,620.0 C826.1,620.2 893.1,620.3 960.0,620.5 C1000.0,620.6 1040.0,620.0 1080.0,621.0 C1111.4,621.8 1142.8,624.2 1174.2,625.8" fill="none" stroke="#ff0000" stroke-width="1.1" stroke-linejoin="round" stroke-linecap="butt"/>
<path d="M759.2,620.5 C806.1,620.7 853.1,620.5 900.0,621.0 C960.0,621.7 1020.0,622.0 1080.0,624.0 C1111.4,625.0 1142.8,628.0 1174.2,630.0" fill="none" stroke="#ff0000" stroke-width="1.1" stroke-linejoin="round" stroke-linecap="butt"/>
<path d="M759.2,620.0 C839.5,620.0 919.7,620.1 1000.0,620.0 C1058.1,619.9 1116.1,619.7 1174.2,619.6" fill="none" stroke="#ff0000" stroke-width="1.1" stroke-linejoin="round" stroke-linecap="butt"/>
<path d="M840.0,624.0 C880.0,624.7 920.0,625.3 960.0,626.0 C1000.0,626.7 1040.0,626.5 1080.0,628.0 C1111.4,629.2 1142.8,632.0 1174.2,634.0" fill="none" stroke="#00ff00" stroke-width="1.1" stroke-linejoin="round" stroke-linecap="butt"/>
<path d="M840.0,624.0 C880.0,625.0 920.0,626.0 960.0,627.0 C1000.0,628.0 1040.1,627.6 1080.0,630.0 C1111.5,631.9 1142.8,636.7 1174.2,640.0" fill="none" stroke="#00ff00" stroke-width="1.1" stroke-linejoin="round" stroke-linecap="butt"/>
<path d="M900.0,623.0 C933.3,623.7 966.7,624.2 1000.0,625.0 C1033.3,625.8 1067.2,623.6 1100.0,628.0 C1125.3,631.4 1149.5,641.7 1174.2,648.5" fill="none" stroke="#00ff00" stroke-width="1.1" stroke-linejoin="round" stroke-linecap="butt"/>
<path d="M1126.8,619.6 C1129.2,619.6 1132.2,618.6 1134.0,619.6 C1135.9,620.6 1136.1,624.5 1138.0,625.8 C1140.1,627.2 1143.7,626.5 1146.0,627.8 C1148.4,629.2 1149.4,633.3 1152.0,634.0 C1158.8,635.7 1166.8,634.7 1174.2,635.0" fill="none" stroke="#000000" stroke-width="1.1" stroke-linejoin="round" stroke-linecap="butt"/>
<path d="M759.2,621.0 C806.1,621.2 853.1,620.8 900.0,621.5 C913.3,621.7 926.7,622.5 940.0,623.7 C960.7,625.6 981.3,628.1 1001.9,631.0 C1015.7,632.9 1029.6,635.2 1043.2,638.2 C1051.6,640.0 1059.9,642.3 1067.9,645.4 C1075.1,648.2 1082.2,651.5 1088.6,655.7 C1094.6,659.7 1099.9,665.0 1105.1,670.2 C1110.9,676.0 1116.8,682.0 1121.6,688.7 C1127.8,697.2 1133.4,706.2 1138.1,715.6 C1142.0,723.3 1144.0,731.9 1147.2,740.0 C1150.2,747.5 1154.1,754.6 1156.7,762.2 C1159.5,770.5 1161.6,779.2 1163.3,787.8 C1164.9,795.8 1165.4,804.1 1166.7,812.2 C1167.7,818.5 1168.7,824.8 1170.0,831.1 C1170.9,835.4 1172.3,839.6 1173.3,843.9 C1173.7,845.5 1173.9,847.2 1174.2,848.9" fill="none" stroke="#ff0000" stroke-width="2.6" stroke-linejoin="round" stroke-linecap="butt"/>
<path d="M759.2,624.4 C776.1,625.6 792.9,626.8 809.8,627.9 C824.9,628.9 840.1,629.6 855.2,630.6 C875.0,631.9 894.9,632.9 914.6,634.9 C923.1,635.8 931.5,637.9 940.0,639.2 C953.8,641.4 967.7,642.7 981.3,645.4 C995.2,648.2 1008.9,651.9 1022.5,655.7 C1036.4,659.5 1050.2,663.4 1063.8,668.1 C1077.8,673.0 1091.3,679.1 1105.1,684.6 C1118.9,690.1 1132.9,695.0 1146.4,701.1 C1153.5,704.3 1160.0,709.1 1167.0,712.5 C1169.2,713.6 1171.8,713.8 1174.2,714.5" fill="none" stroke="#0000ff" stroke-width="2.6" stroke-linejoin="round" stroke-linecap="butt"/>
<circle cx="1174.2" cy="619.6" r="4.5" fill="none" stroke="#ff0000" stroke-width="1.1"/>
<circle cx="1174.2" cy="625.8" r="4.5" fill="none" stroke="#ff0000" stroke-width="1.1"/>
<circle cx="1174.2" cy="633.0" r="4.5" fill="none" stroke="#000000" stroke-width="1.1"/>
<circle cx="1174.2" cy="634.0" r="4.5" fill="none" stroke="#00ff00" stroke-width="1.1"/>
<circle cx="1174.2" cy="640.0" r="4.5" fill="none" stroke="#00ff00" stroke-width="1.1"/>
<circle cx="1174.2" cy="648.5" r="4.5" fill="none" stroke="#00ff00" stroke-width="1.1"/>
<circle cx="1174.2" cy="644.0" r="4.5" fill="none" stroke="#00ff00" stroke-width="1.1"/>
<circle cx="1174.2" cy="650.6" r="4.5" fill="none" stroke="#0000ff" stroke-width="1.1"/>
<circle cx="1174.2" cy="655.7" r="4.5" fill="none" stroke="#0000ff" stroke-width="1.1"/>
<circle cx="1174.2" cy="660.9" r="4.5" fill="none" stroke="#0000ff" stroke-width="1.1"/>
<circle cx="1174.2" cy="666.0" r="4.5" fill="none" stroke="#0000ff" stroke-width="1.1"/>
<circle cx="1174.2" cy="676.4" r="4.5" fill="none" stroke="#0000ff" stroke-width="1.1"/>
<circle cx="1174.2" cy="618.6" r="4.2" fill="none" stroke="#000000" stroke-width="2.2"/>
<circle cx="1174.2" cy="714.5" r="4.2" fill="none" stroke="#0000ff" stroke-width="2.6"/>
<circle cx="1174.2" cy="848.9" r="4.2" fill="none" stroke="#ff0000" stroke-width="2.6"/>
<text transform="translate(1188.18,720.70) scale(1.2170,1)" font-size="15.7" font-weight="bold" fill="#000" stroke="#000" stroke-width="0.15">IHA #3</text>
<text transform="translate(1188.19,855.80) scale(1.2107,1)" font-size="15.7" font-weight="bold" fill="#000" stroke="#000" stroke-width="0.15">IHA #16</text>
<path d="M731.7,619.6 L731.7,1003.9 L1176.3,1003.9" fill="none" stroke="#2b2b2b" stroke-width="1.15"/>
<path d="M731.7,620 L737.7,620" stroke="#2b2b2b" stroke-width="1.15"/>
<path d="M731.7,748 L737.7,748" stroke="#2b2b2b" stroke-width="1.15"/>
<path d="M731.7,876 L737.7,876" stroke="#2b2b2b" stroke-width="1.15"/>
<path d="M731.7,1004 L737.7,1004" stroke="#2b2b2b" stroke-width="1.15"/>
<path d="M836.3,1003.9 L836.3,997.9" stroke="#2b2b2b" stroke-width="1.15"/>
<path d="M1006.5,1003.9 L1006.5,997.9" stroke="#2b2b2b" stroke-width="1.15"/>
<path d="M1176.3,1003.9 L1176.3,997.9" stroke="#2b2b2b" stroke-width="1.15"/>
<text transform="translate(707.49,630.60) scale(0.6071,1)" font-size="30" font-weight="normal" fill="#1a1a1a" stroke="#1a1a1a" stroke-width="0.3">1</text>
<text transform="translate(681.56,759.70) scale(0.9366,1)" font-size="31" font-weight="normal" fill="#1a1a1a" stroke="#1a1a1a" stroke-width="0.3">0.9</text>
<text transform="translate(681.56,887.70) scale(0.9366,1)" font-size="31" font-weight="normal" fill="#1a1a1a" stroke="#1a1a1a" stroke-width="0.3">0.8</text>
<text transform="translate(681.56,1015.70) scale(0.9366,1)" font-size="31" font-weight="normal" fill="#1a1a1a" stroke="#1a1a1a" stroke-width="0.3">0.7</text>
<text transform="translate(812.93,1044.20) scale(1.0659,1)" font-size="31" font-weight="normal" fill="#1a1a1a" stroke="#1a1a1a" stroke-width="0.5">0.5</text>
<text transform="translate(974.15,1044.20) scale(1.0534,1)" font-size="31" font-weight="normal" fill="#1a1a1a" stroke="#1a1a1a" stroke-width="0.5">0.75</text>
<text transform="translate(1166.41,1044.20) scale(0.9929,1)" font-size="31" font-weight="normal" fill="#1a1a1a" stroke="#1a1a1a" stroke-width="0.5">1</text>
<text transform="translate(743.64,1091.20) scale(1.0817,1)" font-size="30.2" font-weight="normal" fill="#1a1a1a" stroke="#1a1a1a" stroke-width="0.6">Relative Energy Production [-]</text>
<text transform="translate(669.60,1001.72) rotate(-90) scale(1.0577,1)" font-size="30.5" font-weight="normal" fill="#1a1a1a" stroke="#1a1a1a" stroke-width="0.45">Environmental Indicator [-]</text>
<circle cx="759.6" cy="889.8" r="7.3" fill="none" stroke="#0000ff" stroke-width="4.0"/>
<path d="M777.7,889.8 L845.8,889.8" stroke="#0000ff" stroke-width="3.6"/>
<text transform="translate(856.65,897.70) scale(1.0264,1)" font-size="24" font-weight="normal" fill="#000" stroke="#000" stroke-width="0.25">IHA Group 1</text>
<circle cx="759.6" cy="918.2" r="7.3" fill="none" stroke="#ff0000" stroke-width="4.0"/>
<path d="M777.7,918.2 L845.8,918.2" stroke="#ff0000" stroke-width="3.6"/>
<text transform="translate(856.65,925.90) scale(1.0264,1)" font-size="24" font-weight="normal" fill="#000" stroke="#000" stroke-width="0.25">IHA Group 2</text>
<circle cx="759.6" cy="947.1" r="7.3" fill="none" stroke="#000000" stroke-width="4.0"/>
<path d="M777.7,947.1 L845.8,947.1" stroke="#000000" stroke-width="3.6"/>
<text transform="translate(856.66,950.70) scale(1.0185,1)" font-size="24" font-weight="normal" fill="#000" stroke="#000" stroke-width="0.25">IHA Group 4</text>
<circle cx="759.6" cy="976.0" r="7.3" fill="none" stroke="#00ff00" stroke-width="4.0"/>
<path d="M777.7,976 L845.8,976" stroke="#00ff00" stroke-width="3.6"/>
<text transform="translate(856.65,980.80) scale(1.0264,1)" font-size="24" font-weight="normal" fill="#000" stroke="#000" stroke-width="0.25">IHA Group 5</text>
<text transform="translate(15.03,1152.70) scale(0.9240,1)" font-size="43.6" font-weight="bold" fill="#000" stroke="#000" stroke-width="0.5">E</text>
<text transform="translate(177.34,1161.70) scale(0.9860,1)" font-size="50" font-weight="bold" fill="#000" stroke="#000" stroke-width="0.35">Ponte Brolla</text>
<path d="M164.0,1186.0 C209.3,1186.3 254.7,1186.1 300.0,1187.0 C340.0,1187.8 380.1,1188.9 420.0,1191.1 C442.3,1192.3 465.0,1193.3 486.7,1197.2 C492.8,1198.3 498.0,1202.7 503.3,1206.1 C508.4,1209.4 513.9,1212.7 517.8,1217.2 C521.3,1221.2 523.1,1226.8 525.6,1231.7 C527.5,1235.4 529.4,1239.0 531.1,1242.8 C533.2,1247.4 535.0,1252.1 537.0,1256.7" fill="none" stroke="#0000ff" stroke-width="1.1" stroke-linejoin="round" stroke-linecap="butt"/>
<path d="M120.0,1183.0 C180.0,1183.3 240.0,1183.0 300.0,1184.0 C358.5,1185.0 417.4,1185.3 475.6,1188.9 C483.3,1189.4 490.8,1192.8 497.8,1196.1 C503.0,1198.6 507.7,1202.4 512.2,1206.1 C516.2,1209.4 520.0,1213.2 523.3,1217.2 C526.3,1220.9 528.8,1225.2 531.1,1229.4 C533.4,1233.7 535.0,1238.3 537.0,1242.8" fill="none" stroke="#0000ff" stroke-width="1.1" stroke-linejoin="round" stroke-linecap="butt"/>
<path d="M300.0,1183.0 C369.6,1184.0 439.4,1184.1 508.9,1186.1 C512.8,1186.2 517.2,1187.1 520.0,1189.4 C523.1,1192.0 525.3,1196.6 526.7,1200.6 C529.0,1207.0 528.9,1214.2 531.1,1220.6 C532.3,1224.0 535.0,1226.9 537.0,1230.0" fill="none" stroke="#0000ff" stroke-width="1.1" stroke-linejoin="round" stroke-linecap="butt"/>
<path d="M300.0,1183.0 C358.5,1184.8 417.6,1183.7 475.6,1188.3 C487.2,1189.2 497.7,1196.1 508.9,1199.4 C514.3,1201.0 520.1,1201.6 525.6,1202.8 C529.4,1203.6 533.2,1204.7 537.0,1205.6" fill="none" stroke="#0000ff" stroke-width="1.1" stroke-linejoin="round" stroke-linecap="butt"/>
<path d="M300.0,1183.0 C366.7,1184.0 433.4,1184.5 500.0,1186.0 C506.7,1186.2 513.6,1186.4 520.0,1188.0 C525.9,1189.4 531.3,1192.7 537.0,1195.0" fill="none" stroke="#0000ff" stroke-width="1.1" stroke-linejoin="round" stroke-linecap="butt"/>
<path d="M300.0,1182.5 C366.7,1183.0 433.4,1182.9 500.0,1184.0 C506.7,1184.1 513.4,1185.1 520.0,1186.0 C525.7,1186.8 531.3,1188.0 537.0,1189.0" fill="none" stroke="#0000ff" stroke-width="1.1" stroke-linejoin="round" stroke-linecap="butt"/>
<path d="M114.3,1182.3 C142.9,1182.4 171.4,1182.4 200.0,1182.5 C266.7,1182.7 333.3,1182.3 400.0,1183.0 C428.9,1183.3 458.5,1182.3 486.7,1185.6 C492.9,1186.3 498.8,1190.8 503.3,1195.0 C507.3,1198.7 509.8,1204.3 512.2,1209.4 C514.7,1214.7 516.3,1220.4 517.8,1226.1 C519.7,1233.4 520.9,1240.9 522.2,1248.3 C523.8,1257.5 525.3,1266.8 526.7,1276.1 C527.9,1283.5 529.3,1290.9 530.0,1298.3 C530.8,1307.2 530.8,1316.1 531.1,1325.0 C531.8,1350.0 532.4,1375.0 533.0,1400.0 C533.7,1433.3 534.3,1466.7 535.0,1500.0 C535.6,1526.7 536.3,1553.3 537.0,1580.0" fill="none" stroke="#ff0000" stroke-width="3.4" stroke-linejoin="round" stroke-linecap="butt"/>
<path d="M120.0,1182.0 C180.0,1182.0 240.0,1181.8 300.0,1182.0 C350.0,1182.2 400.0,1182.4 450.0,1183.0 C469.6,1183.2 490.2,1181.7 508.9,1184.4 C512.8,1185.0 515.8,1189.4 517.8,1192.8 C520.6,1197.7 522.0,1203.7 523.3,1209.4 C525.4,1218.5 526.7,1227.9 527.8,1237.2 C528.9,1246.4 529.3,1255.7 530.0,1265.0 C530.8,1276.1 531.7,1287.2 532.2,1298.3 C532.7,1308.9 532.8,1319.4 533.0,1330.0 C533.7,1370.0 534.4,1410.0 535.0,1450.0 C535.7,1493.3 536.3,1536.7 537.0,1580.0" fill="none" stroke="#ff0000" stroke-width="3.4" stroke-linejoin="round" stroke-linecap="butt"/>
<path d="M120.0,1184.0 C180.0,1184.0 240.0,1183.8 300.0,1184.0 C356.7,1184.2 413.5,1183.3 470.0,1185.0 C478.5,1185.3 487.3,1187.0 495.0,1190.0 C500.0,1192.0 504.6,1195.9 508.0,1200.0 C511.6,1204.2 514.1,1209.7 516.0,1215.0 C518.8,1223.0 520.6,1231.6 522.0,1240.0 C523.9,1251.9 524.8,1264.0 526.0,1276.0 C527.5,1290.7 529.3,1305.3 530.0,1320.0 C532.0,1363.3 532.8,1406.7 534.0,1450.0 C535.2,1493.3 536.0,1536.7 537.0,1580.0" fill="none" stroke="#ff0000" stroke-width="3.4" stroke-linejoin="round" stroke-linecap="butt"/>
<path d="M443.3,1181.7 L537.0,1181.7" fill="none" stroke="#00ff00" stroke-width="3.4" stroke-linejoin="round" stroke-linecap="butt"/>
<circle cx="537.0" cy="1205.6" r="4.5" fill="none" stroke="#0000ff" stroke-width="1.1"/>
<circle cx="537.0" cy="1230.0" r="4.5" fill="none" stroke="#0000ff" stroke-width="1.1"/>
<circle cx="537.0" cy="1242.8" r="4.5" fill="none" stroke="#0000ff" stroke-width="1.1"/>
<circle cx="537.0" cy="1256.7" r="4.5" fill="none" stroke="#0000ff" stroke-width="1.1"/>
<circle cx="537.0" cy="1195.0" r="4.5" fill="none" stroke="#0000ff" stroke-width="1.1"/>
<circle cx="537.0" cy="1189.0" r="4.5" fill="none" stroke="#0000ff" stroke-width="1.1"/>
<circle cx="537.0" cy="1185.0" r="4.5" fill="none" stroke="#ff0000" stroke-width="1.1"/>
<circle cx="537.0" cy="1184.0" r="4.5" fill="none" stroke="#000000" stroke-width="1.1"/>
<circle cx="537.0" cy="1181.5" r="4.2" fill="none" stroke="#000000" stroke-width="2.2"/>
<circle cx="537.0" cy="1183.0" r="4.2" fill="none" stroke="#00ff00" stroke-width="2.2"/>
<circle cx="537.0" cy="1188.0" r="4.2" fill="none" stroke="#00ff00" stroke-width="2.2"/>
<circle cx="537.0" cy="1580.0" r="4.2" fill="none" stroke="#ff0000" stroke-width="2.6"/>
<text transform="translate(549.07,1518.70) scale(1.2321,1)" font-size="15.7" font-weight="bold" fill="#000" stroke="#000" stroke-width="0.15">IHA #13</text>
<text transform="translate(549.07,1534.90) scale(1.2321,1)" font-size="15.7" font-weight="bold" fill="#000" stroke="#000" stroke-width="0.15">IHA #14</text>
<text transform="translate(549.07,1551.70) scale(1.2321,1)" font-size="15.7" font-weight="bold" fill="#000" stroke="#000" stroke-width="0.15">IHA #15</text>
<text transform="translate(549.07,1568.40) scale(1.2321,1)" font-size="15.7" font-weight="bold" fill="#000" stroke="#000" stroke-width="0.15">IHA #16</text>
<path d="M84.8,1181.3 L84.8,1579.8 L536.2,1579.8" fill="none" stroke="#2b2b2b" stroke-width="1.15"/>
<path d="M84.8,1181 L90.8,1181" stroke="#2b2b2b" stroke-width="1.15"/>
<path d="M84.8,1260.8 L90.8,1260.8" stroke="#2b2b2b" stroke-width="1.15"/>
<path d="M84.8,1341 L90.8,1341" stroke="#2b2b2b" stroke-width="1.15"/>
<path d="M84.8,1421 L90.8,1421" stroke="#2b2b2b" stroke-width="1.15"/>
<path d="M84.8,1501 L90.8,1501" stroke="#2b2b2b" stroke-width="1.15"/>
<path d="M84.8,1580.3 L90.8,1580.3" stroke="#2b2b2b" stroke-width="1.15"/>
<path d="M312.4,1579.8 L312.4,1573.8" stroke="#2b2b2b" stroke-width="1.15"/>
<path d="M536.2,1579.8 L536.2,1573.8" stroke="#2b2b2b" stroke-width="1.15"/>
<text transform="translate(60.59,1191.60) scale(0.6071,1)" font-size="30" font-weight="normal" fill="#1a1a1a" stroke="#1a1a1a" stroke-width="0.3">1</text>
<text transform="translate(34.66,1272.50) scale(0.9366,1)" font-size="31" font-weight="normal" fill="#1a1a1a" stroke="#1a1a1a" stroke-width="0.3">0.8</text>
<text transform="translate(34.66,1352.70) scale(0.9366,1)" font-size="31" font-weight="normal" fill="#1a1a1a" stroke="#1a1a1a" stroke-width="0.3">0.6</text>
<text transform="translate(34.69,1432.70) scale(0.9143,1)" font-size="31" font-weight="normal" fill="#1a1a1a" stroke="#1a1a1a" stroke-width="0.3">0.4</text>
<text transform="translate(34.66,1512.70) scale(0.9366,1)" font-size="31" font-weight="normal" fill="#1a1a1a" stroke="#1a1a1a" stroke-width="0.3">0.2</text>
<text transform="translate(58.55,1592.00) scale(0.9533,1)" font-size="31" font-weight="normal" fill="#1a1a1a" stroke="#1a1a1a" stroke-width="0.3">0</text>
<text transform="translate(67.66,1611.70) scale(0.9366,1)" font-size="30.5" font-weight="normal" fill="#1a1a1a" stroke="#1a1a1a" stroke-width="0.3">0.5</text>
<text transform="translate(282.07,1611.70) scale(0.9310,1)" font-size="30.5" font-weight="normal" fill="#1a1a1a" stroke="#1a1a1a" stroke-width="0.3">0.75</text>
<text transform="translate(528.33,1615.60) scale(0.9357,1)" font-size="30.5" font-weight="normal" fill="#1a1a1a" stroke="#1a1a1a" stroke-width="0.3">1</text>
<text transform="translate(103.44,1662.40) scale(1.0819,1)" font-size="30.2" font-weight="normal" fill="#1a1a1a" stroke="#1a1a1a" stroke-width="0.6">Relative Energy Production [-]</text>
<text transform="translate(23.30,1569.61) rotate(-90) scale(1.0548,1)" font-size="30.5" font-weight="normal" fill="#1a1a1a" stroke="#1a1a1a" stroke-width="0.45">Environmental Indicator [-]</text>
<circle cx="129.0" cy="1463.5" r="7.3" fill="none" stroke="#0000ff" stroke-width="4.0"/>
<path d="M146.5,1463.5 L215,1463.5" stroke="#0000ff" stroke-width="3.6"/>
<text transform="translate(226.45,1471.40) scale(1.0264,1)" font-size="24" font-weight="normal" fill="#000" stroke="#000" stroke-width="0.25">IHA Group 1</text>
<circle cx="129.0" cy="1492.5" r="7.3" fill="none" stroke="#ff0000" stroke-width="4.0"/>
<path d="M146.5,1492.5 L215,1492.5" stroke="#ff0000" stroke-width="3.6"/>
<text transform="translate(226.45,1500.20) scale(1.0264,1)" font-size="24" font-weight="normal" fill="#000" stroke="#000" stroke-width="0.25">IHA Group 2</text>
<circle cx="129.0" cy="1521.0" r="7.3" fill="none" stroke="#000000" stroke-width="4.0"/>
<path d="M146.5,1521 L215,1521" stroke="#000000" stroke-width="3.6"/>
<text transform="translate(226.46,1524.60) scale(1.0185,1)" font-size="24" font-weight="normal" fill="#000" stroke="#000" stroke-width="0.25">IHA Group 4</text>
<circle cx="129.0" cy="1550.0" r="7.3" fill="none" stroke="#00ff00" stroke-width="4.0"/>
<path d="M146.5,1550 L215,1550" stroke="#00ff00" stroke-width="3.6"/>
<text transform="translate(226.45,1554.80) scale(1.0264,1)" font-size="24" font-weight="normal" fill="#000" stroke="#000" stroke-width="0.25">IHA Group 5</text>
<text transform="translate(622.26,1162.10) scale(0.9130,1)" font-size="43.6" font-weight="bold" fill="#000" stroke="#000" stroke-width="0.5">F</text>
<text transform="translate(802.90,1170.00) scale(0.9893,1)" font-size="50" font-weight="bold" fill="#000" stroke="#000" stroke-width="0.35">Traditional HP</text>
<path d="M809.8,1192.2 L822.1,1192.2 L830.8,1193.6 L832.5,1195.4 L851.7,1195.4 L853.5,1196.6 L876.2,1196.6 L897.2,1198.3 L960.0,1199.2 L1012.9,1200.0 L1016.7,1203.8 L1022.4,1204.4 L1024.3,1208.2 L1033.8,1208.6 L1034.8,1213.3 L1049.0,1213.9 L1051.0,1219.6 L1066.2,1220.4 L1068.1,1225.7 L1108.1,1228.6 L1112.9,1236.2 L1142.4,1240.0 L1144.3,1248.6 L1151.0,1250.9 L1151.9,1257.1 L1174.8,1258.1 L1178.7,1261.0" fill="none" stroke="#0000ff" stroke-width="2.2" stroke-linejoin="round" stroke-linecap="butt"/>
<path d="M845.0,1195.4 L865.0,1197.0 L869.2,1203.6 L884.9,1203.6 L885.8,1207.6 L928.6,1208.0 L942.6,1210.6 L947.8,1214.0 L960.0,1215.0 L978.6,1220.0 L1026.2,1225.7 L1064.3,1232.4 L1071.9,1241.0 L1083.3,1241.3 L1111.9,1250.5 L1172.9,1256.2 L1178.7,1261.0" fill="none" stroke="#0000ff" stroke-width="2.2" stroke-linejoin="round" stroke-linecap="butt"/>
<path d="M876.2,1196.6 L940.8,1202.7 L951.3,1207.9 L960.0,1209.7 L973.0,1210.0 L978.0,1216.0 L1005.0,1222.0 L1040.0,1228.0 L1070.0,1232.0 L1100.0,1240.0 L1140.0,1250.0 L1178.7,1256.0" fill="none" stroke="#0000ff" stroke-width="2.2" stroke-linejoin="round" stroke-linecap="butt"/>
<path d="M768.8,1196.9 L788.9,1197.5 L792.4,1200.6 L813.3,1200.6 L822.1,1203.6 L837.8,1212.3 L914.6,1214.0 L949.5,1218.4 L961.4,1223.8 L965.2,1230.5 L974.8,1234.3 L976.7,1237.1 L994.8,1241.3 L995.7,1247.6 L1001.4,1255.8 L1062.4,1260.0 L1068.1,1263.8 L1104.3,1269.5 L1108.1,1273.3 L1132.9,1277.1 L1140.5,1281.0 L1178.7,1282.0" fill="none" stroke="#0000ff" stroke-width="2.2" stroke-linejoin="round" stroke-linecap="butt"/>
<path d="M806.4,1214.0 L810.7,1218.8 L817.7,1218.8 L820.3,1221.6 L825.6,1221.9 L831.7,1227.5 L853.5,1230.6 L876.2,1232.0 L888.4,1232.4 L891.9,1236.7 L914.6,1240.2 L974.0,1240.5 L974.8,1248.6 L1003.3,1255.2 L1060.0,1258.0 L1100.0,1262.0 L1140.0,1268.0 L1178.7,1270.0" fill="none" stroke="#0000ff" stroke-width="2.2" stroke-linejoin="round" stroke-linecap="butt"/>
<path d="M876.2,1232.0 L881.4,1236.2 L912.9,1241.1 L916.4,1244.3 L933.8,1248.1 L960.0,1248.4 L1064.0,1249.0 L1120.0,1254.0 L1178.7,1256.2" fill="none" stroke="#0000ff" stroke-width="2.2" stroke-linejoin="round" stroke-linecap="butt"/>
<path d="M984.3,1206.7 L990.0,1212.0 L995.7,1227.6 L1005.2,1235.2 L1037.6,1242.9 L1044.0,1248.0 L1064.3,1248.6 L1102.4,1263.8 L1140.5,1269.5 L1161.0,1276.0 L1178.7,1282.9" fill="none" stroke="#0000ff" stroke-width="2.2" stroke-linejoin="round" stroke-linecap="butt"/>
<path d="M839.5,1247.2 L858.7,1255.4 L893.7,1264.7 L960.0,1270.8 L1064.3,1276.2 L1140.5,1280.0 L1178.7,1281.9" fill="none" stroke="#0000ff" stroke-width="2.2" stroke-linejoin="round" stroke-linecap="butt"/>
<path d="M1039.5,1229.5 L1060.0,1245.0 L1068.0,1260.0 L1075.7,1271.4 L1077.6,1281.0 L1088.7,1300.0 L1092.6,1305.3 L1104.5,1334.9 L1132.1,1352.0 L1138.0,1361.2 L1142.6,1390.1 L1154.5,1396.0 L1161.0,1402.0 L1170.3,1413.2 L1176.8,1444.7 L1178.7,1504.0" fill="none" stroke="#0000ff" stroke-width="2.2" stroke-linejoin="round" stroke-linecap="butt"/>
<path d="M1107.1,1201.0 L1109.0,1207.6 L1117.6,1212.4 L1118.6,1248.6 L1123.3,1260.0 L1127.1,1286.7 L1138.0,1290.0 L1138.0,1319.7 L1142.6,1323.7 L1151.8,1327.0 L1163.7,1342.1 L1171.6,1359.2 L1176.8,1392.1 L1178.7,1418.4" fill="none" stroke="#0000ff" stroke-width="2.2" stroke-linejoin="round" stroke-linecap="butt"/>
<path d="M1163.0,1280.0 L1163.0,1300.0 L1163.0,1318.4 L1168.3,1321.7 L1170.3,1359.2 L1170.3,1442.1 L1176.8,1464.5 L1178.7,1504.0" fill="none" stroke="#0000ff" stroke-width="2.2" stroke-linejoin="round" stroke-linecap="butt"/>
<path d="M1161.4,1273.3 L1178.7,1282.0" fill="none" stroke="#0000ff" stroke-width="2.2" stroke-linejoin="round" stroke-linecap="butt"/>
<path d="M1177.7,1262.0 L1177.7,1506.6" fill="none" stroke="#0000ff" stroke-width="2.2" stroke-linejoin="round" stroke-linecap="butt"/>
<path d="M761.0,1262.4 L768.0,1271.1 L788.9,1283.0 L911.1,1284.8 L932.1,1288.3 L947.8,1289.1 L948.7,1291.4 L960.0,1291.8 L1000.0,1292.8 L1064.3,1295.2 L1113.0,1296.2 L1178.7,1309.5" fill="none" stroke="#ff0000" stroke-width="2.2" stroke-linejoin="round" stroke-linecap="butt"/>
<path d="M769.7,1262.4 L808.1,1272.5 L897.2,1276.9 L942.6,1282.1 L960.0,1285.6 L1007.0,1288.6 L1111.9,1290.5 L1159.5,1298.1 L1178.7,1309.5" fill="none" stroke="#ff0000" stroke-width="2.2" stroke-linejoin="round" stroke-linecap="butt"/>
<path d="M1055.7,1267.2 L1089.0,1267.6 L1092.9,1272.4 L1093.8,1282.9 L1178.7,1283.8" fill="none" stroke="#ff0000" stroke-width="2.2" stroke-linejoin="round" stroke-linecap="butt"/>
<path d="M1110.0,1283.0 L1117.6,1290.5 L1117.6,1309.5 L1121.4,1313.3 L1151.9,1320.0 L1153.0,1330.0 L1175.5,1332.9 L1177.5,1372.4 L1179.5,1443.4" fill="none" stroke="#ff0000" stroke-width="2.2" stroke-linejoin="round" stroke-linecap="butt"/>
<path d="M1117.6,1283.0 L1125.0,1294.3 L1131.0,1302.0 L1167.0,1311.4 L1170.0,1320.0 L1178.7,1323.0" fill="none" stroke="#ff0000" stroke-width="2.2" stroke-linejoin="round" stroke-linecap="butt"/>
<path d="M1129.5,1307.9 L1178.7,1307.9" fill="none" stroke="#ff0000" stroke-width="3" stroke-linejoin="round" stroke-linecap="butt"/>
<path d="M1159.7,1390.8 L1171.6,1409.2 L1178.2,1444.7 L1178.8,1497.4" fill="none" stroke="#ff0000" stroke-width="2.6" stroke-linejoin="round" stroke-linecap="butt"/>
<path d="M1160.4,1401.3 L1170.3,1415.8 L1178.2,1471.0" fill="none" stroke="#ff0000" stroke-width="2.6" stroke-linejoin="round" stroke-linecap="butt"/>
<path d="M1160.4,1407.2 L1171.6,1425.0 L1176.8,1457.9 L1178.7,1480.0" fill="none" stroke="#ff0000" stroke-width="2.6" stroke-linejoin="round" stroke-linecap="butt"/>
<path d="M943.4,1286.5 L950.0,1287.6 L982.4,1289.0 L999.5,1291.4 L1031.9,1301.0 L1083.3,1303.8 L1178.7,1305.7" fill="none" stroke="#00ff00" stroke-width="2.2" stroke-linejoin="round" stroke-linecap="butt"/>
<path d="M1070.0,1291.4 L1098.6,1292.8 L1117.6,1301.9 L1132.1,1313.2 L1178.7,1313.3" fill="none" stroke="#00ff00" stroke-width="2.2" stroke-linejoin="round" stroke-linecap="butt"/>
<path d="M1003.3,1192.4 L1045.2,1195.2 L1127.1,1196.2 L1131.0,1199.0 L1146.2,1199.0 L1176.7,1200.4" fill="none" stroke="#ff00ff" stroke-width="2.2" stroke-linejoin="round" stroke-linecap="butt"/>
<path d="M1177.6,1195.0 L1177.6,1203.0" fill="none" stroke="#00ff00" stroke-width="2.2" stroke-linejoin="round" stroke-linecap="butt"/>
<circle cx="1178.3" cy="1192.4" r="1.3" fill="#000"/>
<path d="M716.4,1192.4 L716.4,1580.4 L1178.7,1580.4" fill="none" stroke="#2b2b2b" stroke-width="1.15"/>
<path d="M716.4,1193 L722.4,1193" stroke="#2b2b2b" stroke-width="1.15"/>
<path d="M716.4,1270 L722.4,1270" stroke="#2b2b2b" stroke-width="1.15"/>
<path d="M716.4,1347.7 L722.4,1347.7" stroke="#2b2b2b" stroke-width="1.15"/>
<path d="M716.4,1425 L722.4,1425" stroke="#2b2b2b" stroke-width="1.15"/>
<path d="M716.4,1502.5 L722.4,1502.5" stroke="#2b2b2b" stroke-width="1.15"/>
<path d="M716.4,1580 L722.4,1580" stroke="#2b2b2b" stroke-width="1.15"/>
<path d="M782.5,1580.4 L782.5,1574.4" stroke="#2b2b2b" stroke-width="1.15"/>
<path d="M1178.7,1580.4 L1178.7,1574.4" stroke="#2b2b2b" stroke-width="1.15"/>
<text transform="translate(692.19,1203.60) scale(0.6071,1)" font-size="30" font-weight="normal" fill="#1a1a1a" stroke="#1a1a1a" stroke-width="0.3">1</text>
<text transform="translate(666.26,1281.70) scale(0.9366,1)" font-size="31" font-weight="normal" fill="#1a1a1a" stroke="#1a1a1a" stroke-width="0.3">0.8</text>
<text transform="translate(666.26,1359.40) scale(0.9366,1)" font-size="31" font-weight="normal" fill="#1a1a1a" stroke="#1a1a1a" stroke-width="0.3">0.6</text>
<text transform="translate(666.29,1436.70) scale(0.9143,1)" font-size="31" font-weight="normal" fill="#1a1a1a" stroke="#1a1a1a" stroke-width="0.3">0.4</text>
<text transform="translate(666.26,1514.20) scale(0.9366,1)" font-size="31" font-weight="normal" fill="#1a1a1a" stroke="#1a1a1a" stroke-width="0.3">0.2</text>
<text transform="translate(690.15,1591.70) scale(0.9533,1)" font-size="31" font-weight="normal" fill="#1a1a1a" stroke="#1a1a1a" stroke-width="0.3">0</text>
<text transform="translate(751.35,1620.40) scale(1.0534,1)" font-size="31" font-weight="normal" fill="#1a1a1a" stroke="#1a1a1a" stroke-width="0.5">0.75</text>
<text transform="translate(1168.26,1620.40) scale(1.1214,1)" font-size="31" font-weight="normal" fill="#1a1a1a" stroke="#1a1a1a" stroke-width="0.5">1</text>
<text transform="translate(746.53,1666.00) scale(1.0857,1)" font-size="30.2" font-weight="normal" fill="#1a1a1a" stroke="#1a1a1a" stroke-width="0.6">Relative Energy Production [-]</text>
<text transform="translate(655.00,1570.71) rotate(-90) scale(1.0541,1)" font-size="29.8" font-weight="normal" fill="#1a1a1a" stroke="#1a1a1a" stroke-width="0.45">Environmental Indicator [-]</text>
<circle cx="746.7" cy="1443.3" r="7.1" fill="none" stroke="#0000ff" stroke-width="4.2"/>
<path d="M763.2,1443.3 L831.8,1443.3" stroke="#0000ff" stroke-width="4"/>
<text transform="translate(838.85,1444.60) scale(1.0741,1)" font-size="25" font-weight="normal" fill="#000" stroke="#000" stroke-width="0.3">IHA Group 1</text>
<circle cx="746.7" cy="1471.6" r="7.1" fill="none" stroke="#ff0000" stroke-width="4.2"/>
<path d="M763.2,1471.6 L831.8,1471.6" stroke="#ff0000" stroke-width="4"/>
<text transform="translate(838.85,1475.30) scale(1.0741,1)" font-size="25" font-weight="normal" fill="#000" stroke="#000" stroke-width="0.3">IHA Group 2</text>
<circle cx="746.7" cy="1500.5" r="7.1" fill="none" stroke="#ff00ff" stroke-width="4.2"/>
<path d="M763.2,1500.5 L831.8,1500.5" stroke="#ff00ff" stroke-width="4"/>
<text transform="translate(838.85,1505.70) scale(1.0741,1)" font-size="25" font-weight="normal" fill="#000" stroke="#000" stroke-width="0.3">IHA Group 3</text>
<circle cx="746.7" cy="1529.4" r="7.1" fill="none" stroke="#000000" stroke-width="4.2"/>
<path d="M763.2,1529.4 L831.8,1529.4" stroke="#000000" stroke-width="4"/>
<text transform="translate(838.85,1536.80) scale(1.0741,1)" font-size="25" font-weight="normal" fill="#000" stroke="#000" stroke-width="0.3">IHA Group 4</text>
<circle cx="746.7" cy="1558.3" r="7.1" fill="none" stroke="#00ff00" stroke-width="4.2"/>
<path d="M763.2,1558.3 L831.8,1558.3" stroke="#00ff00" stroke-width="4"/>
<text transform="translate(838.85,1566.80) scale(1.0741,1)" font-size="25" font-weight="normal" fill="#000" stroke="#000" stroke-width="0.3">IHA Group 5</text>
</svg></body></html>
